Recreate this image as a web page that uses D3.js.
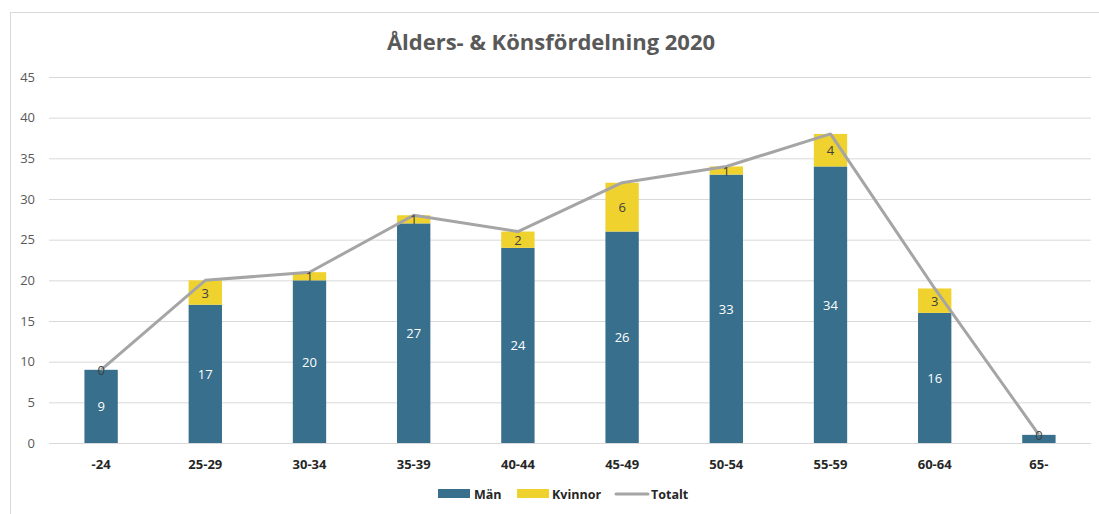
<!DOCTYPE html>
<html>
<head>
<meta charset="utf-8">
<script src="https://cdn.jsdelivr.net/npm/d3@7"></script>
<style>
  body { margin: 0; background: #fff; }
  svg text { font-family: "Open Sans", "Liberation Sans", sans-serif; }
</style>
</head>
<body>
<div id="chart"></div>
<script>
var categories = ["-24", "25-29", "30-34", "35-39", "40-44", "45-49", "50-54", "55-59", "60-64", "65-"];
var man = [9, 17, 20, 27, 24, 26, 33, 34, 16, 1];
var kvinnor = [0, 3, 1, 1, 2, 6, 1, 4, 3, 0];
var totalt = [9, 20, 21, 28, 26, 32, 34, 38, 19, 1];
var yTicks = [0, 5, 10, 15, 20, 25, 30, 35, 40, 45];

var W = 1099, H = 514;
var margin = {top: 77, right: 8, bottom: 71, left: 49};
var width = W - margin.left - margin.right,
    height = H - margin.top - margin.bottom;

var svg = d3.select("#chart").append("svg")
    .attr("width", W)
    .attr("height", H);

// chart frame
svg.append("rect")
    .attr("x", 10.5).attr("y", 12.5)
    .attr("width", W + 10).attr("height", H + 10)
    .attr("fill", "none").attr("stroke", "#d9d9d9");

svg.append("text")
    .attr("x", 551).attr("y", 50)
    .attr("text-anchor", "middle")
    .style("font-size", "22px").style("font-weight", "bold")
    .attr("fill", "#595959")
    .text("Ålders- & Könsfördelning 2020");

var g = svg.append("g").attr("transform", "translate(" + margin.left + "," + margin.top + ")");

var x = d3.scaleBand().domain(categories).range([0, width]).paddingInner(0.68).paddingOuter(0.34);
var y = d3.scaleLinear().domain([0, 45]).range([height, 0]);

// gridlines
g.append("g").selectAll("line").data(yTicks).enter().append("line")
    .attr("x1", 0).attr("x2", width)
    .attr("y1", function (d) { return y(d) + 0.5; })
    .attr("y2", function (d) { return y(d) + 0.5; })
    .attr("stroke", "#d9d9d9").attr("stroke-width", 1);

var yAxis = g.append("g").call(d3.axisLeft(y).tickValues(yTicks).tickSize(0).tickPadding(14));
yAxis.select(".domain").remove();
yAxis.selectAll("text").style("font-size", "13px").attr("fill", "#595959");

var xAxis = g.append("g").attr("transform", "translate(0," + height + ")")
    .call(d3.axisBottom(x).tickSize(0).tickPadding(17));
xAxis.select(".domain").remove();
xAxis.selectAll("text").style("font-size", "13px").style("font-weight", "bold").attr("fill", "#262626");

var rows = categories.map(function (c, i) {
    return {cat: c, man: man[i], kv: kvinnor[i], tot: totalt[i]};
});

// Män bars
g.selectAll(".man").data(rows).enter().append("rect")
    .attr("class", "man")
    .attr("x", function (d) { return x(d.cat); })
    .attr("width", x.bandwidth())
    .attr("y", function (d) { return y(d.man); })
    .attr("height", function (d) { return y(0) - y(d.man); })
    .attr("fill", "#376f8d");

// Kvinnor bars
g.selectAll(".kv").data(rows).enter().append("rect")
    .attr("class", "kv")
    .attr("x", function (d) { return x(d.cat); })
    .attr("width", x.bandwidth())
    .attr("y", function (d) { return y(d.man + d.kv); })
    .attr("height", function (d) { return y(d.man) - y(d.man + d.kv); })
    .attr("fill", "#efd22d");

// Totalt line
var line = d3.line()
    .x(function (d) { return x(d.cat) + x.bandwidth() / 2; })
    .y(function (d) { return y(d.tot); });
g.append("path").datum(rows)
    .attr("d", line)
    .attr("fill", "none")
    .attr("stroke", "#a5a5a5")
    .attr("stroke-width", 3)
    .attr("stroke-linejoin", "round");

// labels for Män
g.selectAll(".lman").data(rows.filter(function (d) { return d.man > 2; })).enter().append("text")
    .attr("x", function (d) { return x(d.cat) + x.bandwidth() / 2; })
    .attr("y", function (d) { return y(d.man / 2) + 5; })
    .attr("text-anchor", "middle")
    .style("font-size", "13px")
    .attr("fill", "#ffffff")
    .text(function (d) { return d.man; });

// labels for Kvinnor
g.selectAll(".lkv").data(rows).enter().append("text")
    .attr("x", function (d) { return x(d.cat) + x.bandwidth() / 2; })
    .attr("y", function (d) { return y(d.man + d.kv / 2) + 5; })
    .attr("text-anchor", "middle")
    .style("font-size", "13px")
    .attr("fill", "#404040")
    .text(function (d) { return d.kv; });

// legend
var legend = svg.append("g").attr("transform", "translate(0,494)");
legend.append("rect").attr("x", 438).attr("y", -5).attr("width", 32).attr("height", 9).attr("fill", "#376f8d");
legend.append("text").attr("x", 474).attr("y", 5).text("Män");
legend.append("rect").attr("x", 517).attr("y", -5).attr("width", 32).attr("height", 9).attr("fill", "#efd22d");
legend.append("text").attr("x", 552).attr("y", 5).text("Kvinnor");
legend.append("line").attr("x1", 616).attr("x2", 648).attr("y1", 0).attr("y2", 0)
    .attr("stroke", "#a5a5a5").attr("stroke-width", 3).attr("stroke-linecap", "round");
legend.append("text").attr("x", 651).attr("y", 5).text("Totalt");
legend.selectAll("text").style("font-size", "12.5px").style("font-weight", "bold").attr("fill", "#262626");
</script>
</body>
</html>
